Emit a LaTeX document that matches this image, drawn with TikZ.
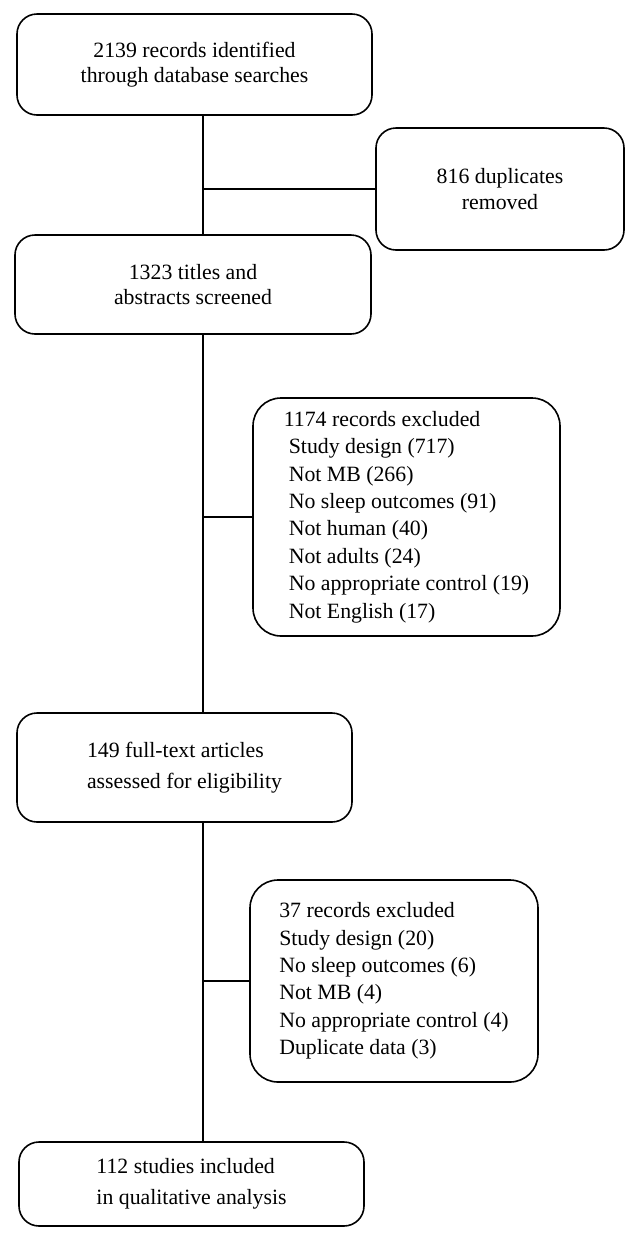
\documentclass[tikz,border=0pt]{standalone}
\usepackage{fontspec}
\setmainfont{Liberation Serif}
\usetikzlibrary{positioning}
\usetikzlibrary{calc}

\begin{document}
\begin{tikzpicture}[x=0.5pt, y=-0.5pt,
    module/.style={draw, line width=0.8pt, rounded corners=10pt, align=center, inner sep=0pt, font=\fontsize{10.9}{12.6}\selectfont},
    listbox/.style={module, align=left, rounded corners=14pt, font=\fontsize{10.9}{13.7}\selectfont},
    link/.style={line width=0.8pt},
]
\useasboundingbox (0,0) rectangle (639,1239);

\node[module, minimum width=177.5pt, minimum height=50.5pt] (records) at (194.5,64.5) {2139 records identified\\through database searches};
\node[module, minimum width=124pt, minimum height=61pt] (duplicates) at (500,189) {816 duplicates\\removed};
\node[module, minimum width=178pt, minimum height=49.5pt] (screened) at (193,284.5) {1323 titles and\\abstracts screened};
\node[listbox, minimum width=153.5pt, minimum height=119pt] (excluded1) at (406.5,517) {1174 records excluded\\\hspace*{2.5pt}Study design (717)\\\hspace*{2.5pt}Not MB (266)\\\hspace*{2.5pt}No sleep outcomes (91)\\\hspace*{2.5pt}Not human (40)\\\hspace*{2.5pt}Not adults (24)\\\hspace*{2.5pt}No appropriate control (19)\\\hspace*{2.5pt}Not English (17)};
\node[module, align=left, minimum width=167.5pt, minimum height=54.5pt] (fulltext) at (184.5,767.5) {149 full-text articles\\[3pt]assessed for eligibility};
\node[listbox, minimum width=144pt, minimum height=101pt] (excluded2) at (394,981) {37 records excluded\\Study design (20)\\No sleep outcomes (6)\\Not MB (4)\\No appropriate control (4)\\Duplicate data (3)};
\node[module, align=left, minimum width=172.5pt, minimum height=42pt] (included) at (191.5,1184) {112 studies included\\[3pt]in qualitative analysis};

% trunk and side branches
\coordinate (split1) at (203,189);
\coordinate (split2) at (203,517);
\coordinate (split3) at (203,981);

\draw[link] (records.south -| split1) -- (screened.north -| split1);
\draw[link] (split1) -- (duplicates.west);
\draw[link] (screened.south -| split2) -- (fulltext.north -| split2);
\draw[link] (split2) -- (excluded1.west);
\draw[link] (fulltext.south -| split3) -- (included.north -| split3);
\draw[link] (split3) -- (excluded2.west);
\end{tikzpicture}
\end{document}
